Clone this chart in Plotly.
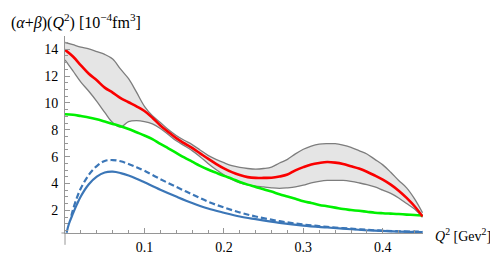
import plotly.graph_objects as go

# ---------------- data ----------------
q2 = [0.00, 0.01, 0.02, 0.03, 0.04, 0.05, 0.06, 0.07, 0.08, 0.09,
      0.10, 0.11, 0.12, 0.13, 0.14, 0.15, 0.16, 0.17, 0.18, 0.19,
      0.20, 0.21, 0.22, 0.23, 0.24, 0.25, 0.26, 0.27, 0.28, 0.29,
      0.30, 0.31, 0.32, 0.33, 0.34, 0.35, 0.36, 0.37, 0.38, 0.39,
      0.40, 0.41, 0.42, 0.43, 0.44, 0.45]

red_central = [13.95, 13.45, 12.80, 12.17, 11.68, 11.14, 10.77, 10.36, 10.05, 9.74,
               9.40, 8.90, 8.32, 7.84, 7.38, 7.00, 6.65, 6.25, 5.85, 5.47,
               5.13, 4.85, 4.63, 4.48, 4.42, 4.42, 4.43, 4.52, 4.67, 4.98,
               5.22, 5.42, 5.53, 5.60, 5.56, 5.46, 5.29, 5.12, 4.88, 4.60,
               4.29, 3.92, 3.47, 2.93, 2.31, 1.55]

band_upper = [14.50, 14.33, 14.16, 14.02, 13.82, 13.61, 13.27, 12.51, 11.80, 10.80,
              9.75, 9.05, 8.55, 8.02, 7.58, 7.22, 6.90, 6.50, 6.10, 5.80,
              5.55, 5.33, 5.20, 5.12, 5.08, 5.12, 5.22, 5.53, 5.80, 6.21,
              6.55, 6.79, 6.93, 6.97, 6.97, 6.86, 6.69, 6.45, 6.20, 5.80,
              5.39, 4.84, 4.23, 3.68, 2.86, 1.83]

band_lower = [13.20, 12.38, 11.55, 10.87, 10.12, 9.30, 8.54, 8.20, 8.61, 8.68,
              8.61, 8.44, 8.10, 7.65, 7.18, 6.82, 6.45, 6.00, 5.50, 5.05,
              4.65, 4.30, 4.05, 3.90, 3.81, 3.75, 3.68, 3.64, 3.68, 3.75,
              3.88, 4.05, 4.16, 4.23, 4.23, 4.23, 4.16, 4.05, 3.92, 3.75,
              3.51, 3.27, 2.93, 2.51, 2.10, 1.49]

green = [9.16, 9.12, 9.02, 8.92, 8.78, 8.61, 8.44, 8.27, 8.06, 7.82,
         7.58, 7.31, 6.95, 6.62, 6.28, 5.94, 5.63, 5.32, 5.05, 4.81,
         4.57, 4.36, 4.12, 3.92, 3.75, 3.57, 3.40, 3.20, 3.03, 2.86,
         2.68, 2.55, 2.41, 2.31, 2.21, 2.10, 2.03, 1.97, 1.90, 1.83,
         1.79, 1.76, 1.73, 1.69, 1.66, 1.62]

q2_blue = [0.002, 0.005, 0.01, 0.015, 0.02, 0.03, 0.04, 0.05, 0.06, 0.07,
           0.08, 0.09, 0.10, 0.12, 0.14, 0.16, 0.18, 0.20, 0.22, 0.24,
           0.27, 0.30, 0.33, 0.36, 0.39, 0.42, 0.45]
blue_solid = [0.34, 1.01, 1.76, 2.45, 3.06, 3.95, 4.52, 4.82, 4.88, 4.78,
              4.60, 4.36, 4.09, 3.54, 3.03, 2.55, 2.14, 1.83, 1.55, 1.35,
              1.08, 0.87, 0.73, 0.60, 0.49, 0.42, 0.39]

q2_dash = [0.008, 0.01, 0.015, 0.02, 0.03, 0.04, 0.05, 0.06, 0.07, 0.08,
           0.09, 0.10, 0.12, 0.14, 0.16, 0.18, 0.20, 0.22, 0.24, 0.27,
           0.30, 0.33, 0.36, 0.39, 0.42, 0.45]
blue_dashed = [1.60, 2.05, 2.95, 3.65, 4.65, 5.30, 5.68, 5.75, 5.66, 5.46,
               5.22, 4.95, 4.33, 3.75, 3.20, 2.65, 2.22, 1.85, 1.55, 1.20,
               0.95, 0.78, 0.64, 0.52, 0.45, 0.41]

x_ticks = [0.1, 0.2, 0.3, 0.4]
x_tick_labels = ["0.1", "0.2", "0.3", "0.4"]
y_ticks = [2, 4, 6, 8, 10, 12, 14]
y_tick_labels = ["2", "4", "6", "8", "10", "12", "14"]

y_title = "(<i>α</i>+<i>β</i>)(<i>Q</i><sup>2</sup>) [10<sup>−4</sup>fm<sup>3</sup>]"
x_title = "<i>Q</i><sup>2</sup> [Gev<sup>2</sup>]"

# ---------------- figure ----------------
FONT = "Liberation Serif, Times New Roman, serif"
GRAY_EDGE = "rgb(125,125,125)"
BAND_FILL = "rgb(229,229,229)"
BLUE = "rgb(59,118,183)"

fig = go.Figure()

fig.add_trace(go.Scatter(x=q2, y=band_lower, mode="lines",
                         line=dict(color=GRAY_EDGE, width=1.3, shape="spline"),
                         hoverinfo="skip", showlegend=False))
fig.add_trace(go.Scatter(x=q2, y=band_upper, mode="lines", fill="tonexty",
                         fillcolor=BAND_FILL,
                         line=dict(color=GRAY_EDGE, width=1.3, shape="spline"),
                         hoverinfo="skip", showlegend=False))
fig.add_trace(go.Scatter(x=q2, y=green, mode="lines",
                         line=dict(color="rgb(0,240,0)", width=2.6, shape="spline"),
                         showlegend=False))
fig.add_trace(go.Scatter(x=q2, y=red_central, mode="lines",
                         line=dict(color="rgb(250,0,0)", width=2.6, shape="spline"),
                         showlegend=False))
fig.add_trace(go.Scatter(x=q2_dash, y=blue_dashed, mode="lines",
                         line=dict(color=BLUE, width=2.2, shape="spline", dash="6px,3px"),
                         showlegend=False))
fig.add_trace(go.Scatter(x=q2_blue, y=blue_solid, mode="lines",
                         line=dict(color=BLUE, width=2.2, shape="spline"),
                         showlegend=False))

axis_gray = "rgb(150,150,150)"
fig.update_layout(
    width=498, height=259,
    margin=dict(l=57, r=83, t=28, b=17, pad=0),
    paper_bgcolor="white", plot_bgcolor="white",
    font=dict(family=FONT, size=14, color="black"),
    xaxis=dict(range=[0, 0.4506], showgrid=False, zeroline=False,
               showline=True, linecolor=axis_gray, linewidth=1,
               tickmode="array", tickvals=x_ticks, ticktext=x_tick_labels,
               ticks="inside", ticklen=5, tickcolor=axis_gray, tickwidth=1,
               minor=dict(dtick=0.02, ticks="inside", ticklen=3, tickcolor=axis_gray),
               tickfont=dict(family=FONT, size=14, color="black"), ticklabelstandoff=1,
               fixedrange=True),
    yaxis=dict(range=[0.32, 14.98], showgrid=False, zeroline=False,
               showline=True, linecolor=axis_gray, linewidth=1,
               tickmode="array", tickvals=y_ticks, ticktext=y_tick_labels,
               ticks="inside", ticklen=5, tickcolor=axis_gray, tickwidth=1,
               minor=dict(dtick=0.5, tick0=0, ticks="inside", ticklen=3, tickcolor=axis_gray),
               tickfont=dict(family=FONT, size=14, color="black"), ticklabelstandoff=3,
               fixedrange=True),
    shapes=[
        dict(type="line", xref="paper", yref="paper", x0=0, x1=0, y0=0, y1=-0.06,
             line=dict(color=axis_gray, width=1)),
        dict(type="line", xref="paper", yref="paper", x0=-0.01, x1=0, y0=0, y1=0,
             line=dict(color=axis_gray, width=1)),
    ],
    annotations=[
        dict(text=y_title, xref="paper", yref="paper", x=-0.156, y=1.075,
             xanchor="left", yanchor="middle", showarrow=False,
             font=dict(family=FONT, size=16, color="black")),
        dict(text=x_title, xref="paper", yref="paper", x=1.028, y=-0.01,
             xanchor="left", yanchor="middle", showarrow=False,
             font=dict(family=FONT, size=14, color="black")),
    ],
)

fig.write_html("out.html")
